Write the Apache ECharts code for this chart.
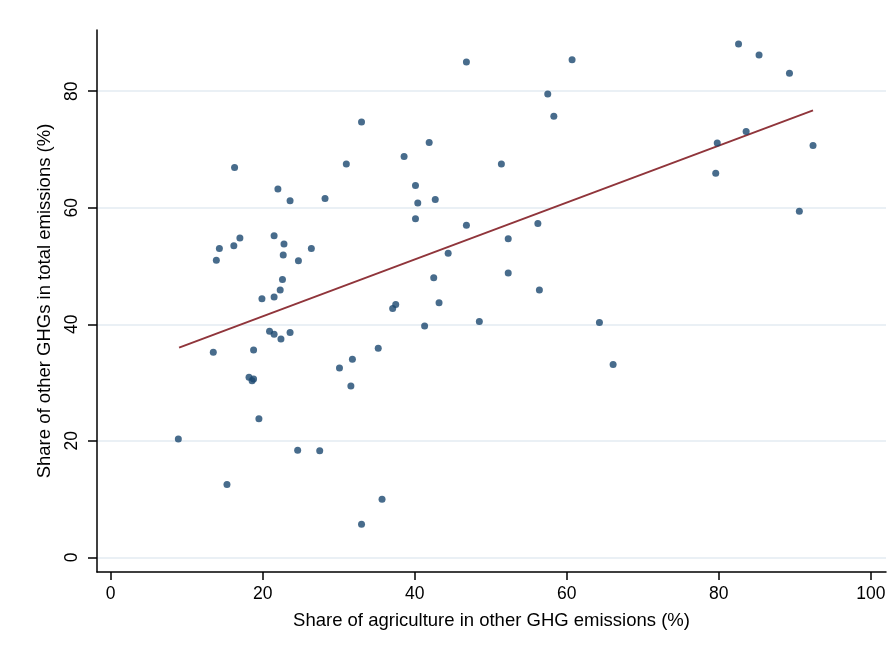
<!DOCTYPE html>
<html>
<head>
<meta charset="utf-8">
<script src="https://cdn.jsdelivr.net/npm/echarts@6/dist/echarts.min.js"></script>
<style>
html,body{margin:0;padding:0;background:#fff;}
#c{width:894px;height:659px;}
</style>
</head>
<body>
<div id="c"></div>
<script>
// Share of agriculture in other GHG emissions (%)
var agriShare = [
  16.3, 33.0, 31.0, 22.0, 23.6, 28.2, 21.5, 22.8, 22.7, 24.7,
  26.4, 17.0, 16.2, 14.3, 13.9, 22.6, 22.3, 19.9, 21.5,
  20.9, 21.5, 22.4, 23.6, 13.5, 18.8, 18.2, 18.6, 18.8, 19.5,
  8.9, 24.6, 27.5, 15.3, 35.2, 31.8, 30.1, 31.6, 35.7, 33.0,
  46.8, 60.7, 57.5, 58.3, 41.9, 38.6, 51.4, 40.1, 40.4, 42.7,
  40.1, 46.8, 56.2, 52.3, 44.4, 42.5, 52.3, 56.4,
  37.1, 37.5, 43.2, 41.3, 48.5, 64.3, 66.1,
  82.6, 85.3, 89.3, 83.6, 79.8, 92.4, 79.6, 90.6
];
// Share of other GHGs in total emissions (%)
var otherShare = [
  66.9, 74.7, 67.5, 63.2, 61.2, 61.6, 55.2, 53.8, 51.9, 50.9,
  53.0, 54.8, 53.5, 53.0, 51.0, 47.7, 45.9, 44.4, 44.7,
  38.8, 38.3, 37.5, 38.6, 35.2, 35.6, 30.9, 30.3, 30.6, 23.8,
  20.3, 18.4, 18.3, 12.5, 35.9, 34.0, 32.5, 29.4, 10.0, 5.7,
  85.0, 85.4, 79.5, 75.7, 71.2, 68.8, 67.5, 63.8, 60.8, 61.4,
  58.1, 57.0, 57.3, 54.7, 52.2, 48.0, 48.8, 45.9,
  42.7, 43.4, 43.7, 39.7, 40.5, 40.3, 33.1,
  88.1, 86.2, 83.1, 73.1, 71.1, 70.7, 65.9, 59.4
];
// Linear fit line end points
var fitX = [9.0, 92.4];
var fitY = [36.0, 76.7];
var xTicks = [0, 20, 40, 60, 80, 100];
var yTicks = [0, 20, 40, 60, 80];

var FONT = "'Liberation Sans Narrow', 'Arial Narrow', 'Liberation Sans', Arial, sans-serif";
var points = agriShare.map(function (x, i) { return [x, otherShare[i]]; });
var fit = fitX.map(function (x, i) { return [x, fitY[i]]; });

var chart = echarts.init(document.getElementById('c'), null, {renderer: 'canvas'});
chart.setOption({
  backgroundColor: '#ffffff',
  animation: false,
  grid: {left: 97, right: 8, top: 30, bottom: 87, containLabel: false},
  xAxis: {
    type: 'value', min: -1.8, max: 102,
    name: 'Share of agriculture in other GHG emissions (%)',
    nameLocation: 'middle', nameGap: 39,
    nameTextStyle: {fontFamily: FONT, fontSize: 18.5, color: '#000'},
    axisLine: {show: true, onZero: false, lineStyle: {color: '#000', width: 1.5}},
    axisTick: {show: true, customValues: xTicks, length: 8, lineStyle: {color: '#000', width: 1.5}},
    axisLabel: {customValues: xTicks, fontFamily: FONT, fontSize: 17.5, color: '#000', margin: 13},
    splitLine: {show: false}
  },
  yAxis: {
    type: 'value', min: -2.5, max: 90.5,
    name: 'Share of other GHGs in total emissions (%)',
    nameLocation: 'middle', nameGap: 43, nameRotate: 90,
    nameTextStyle: {fontFamily: FONT, fontSize: 18.5, color: '#000'},
    axisLine: {show: true, onZero: false, lineStyle: {color: '#000', width: 1.5}},
    axisTick: {show: true, customValues: yTicks, length: 9, lineStyle: {color: '#000', width: 1.5}},
    axisLabel: {customValues: yTicks, rotate: 90, fontFamily: FONT, fontSize: 17.5, color: '#000', margin: 16},
    splitLine: {show: true, lineStyle: {color: '#eaf0f5', width: 2}}
  },
  series: [
    {
      type: 'scatter', data: points, symbol: 'circle', symbolSize: 7,
      itemStyle: {color: '#1a476f'}, z: 3
    },
    {
      type: 'line', data: fit, symbol: 'none', z: 2,
      lineStyle: {color: '#90353b', width: 2}
    }
  ]
});
</script>
</body>
</html>
